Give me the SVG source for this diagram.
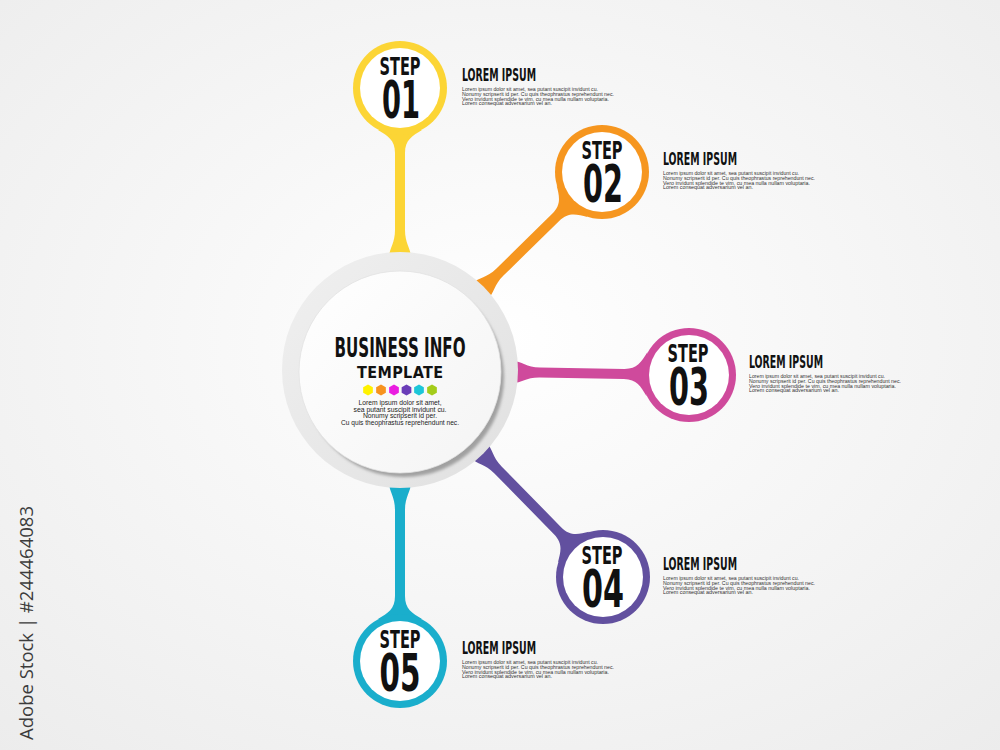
<svg xmlns="http://www.w3.org/2000/svg" xmlns:xlink="http://www.w3.org/1999/xlink" width="1000" height="750" viewBox="0 0 1000 750">
<defs>
<radialGradient id="bg" cx="50%" cy="45%" r="75%">
<stop offset="0" stop-color="#ffffff"/>
<stop offset="1" stop-color="#ececec"/>
</radialGradient>
<linearGradient id="ringG" x1="0" y1="0" x2="1" y2="1">
<stop offset="0" stop-color="#f0f0f0"/>
<stop offset="1" stop-color="#e0e0e0"/>
</linearGradient>
<linearGradient id="diskG" x1="0" y1="0" x2="1" y2="1">
<stop offset="0" stop-color="#ffffff"/>
<stop offset="1" stop-color="#f4f4f4"/>
</linearGradient>
<filter id="blur" x="-10%" y="-10%" width="120%" height="120%"><feGaussianBlur stdDeviation="1.5"/></filter>
<polygon id="hex" points="0,-5.6 4.85,-2.8 4.85,2.8 0,5.6 -4.85,2.8 -4.85,-2.8"/>
<style>
.cond{font-family:"DejaVu Sans Condensed","DejaVu Sans","Liberation Sans",sans-serif;font-weight:bold;fill:#111;}
.body{font-family:"Liberation Sans",Arial,sans-serif;fill:#333;font-size:5.3px;}
.cbody{font-family:"Liberation Sans",Arial,sans-serif;fill:#222;font-size:7.4px;text-anchor:middle;}
.stepw{font-size:24.5px;}
.num{font-size:52px;}
.lbl{text-anchor:middle;}
.title{font-size:17.5px;}
.inner{fill:#ffffff;}
</style>
</defs>
<rect width="1000" height="750" fill="url(#bg)"/>
<text transform="translate(33,740) rotate(-90)" font-family="'Open Sans','DejaVu Sans',sans-serif" font-size="19" fill="#3c3c3c" textLength="234" lengthAdjust="spacingAndGlyphs">Adobe Stock | #244464083</text>

<g id="connectors">
<g transform="translate(400,370) rotate(-90)"><path fill="#fcd535" d="M112,-11 C122,-11 126,-5 140,-5 L217,-5 C230,-5 234,-12 240,-22 L240,22 C234,12 230,5 217,5 L140,5 C126,5 122,11 112,11 Z"/></g>
<g transform="translate(400,370) rotate(-44.43)"><path fill="#f6961f" d="M112,-11 C122,-11 126,-5 140,-5 L218,-5 C231,-5 235,-12 241,-22 L241,22 C235,12 231,5 218,5 L140,5 C126,5 122,11 112,11 Z"/></g>
<g transform="translate(400,370) rotate(1)"><path fill="#cf4a9c" d="M112,-11 C122,-11 126,-5 140,-5 L224,-5 C237,-5 241,-12 247,-22 L247,22 C241,12 237,5 224,5 L140,5 C126,5 122,11 112,11 Z"/></g>
<g transform="translate(400,370) rotate(45.56)"><path fill="#62509f" d="M112,-11 C122,-11 126,-5 140,-5 L225,-5 C238,-5 242,-12 248,-22 L248,22 C242,12 238,5 225,5 L140,5 C126,5 122,11 112,11 Z"/></g>
<g transform="translate(400,370) rotate(90)"><path fill="#1aaecc" d="M112,-11 C122,-11 126,-5 140,-5 L226,-5 C239,-5 243,-12 249,-22 L249,22 C243,12 239,5 226,5 L140,5 C126,5 122,11 112,11 Z"/></g>
</g>

<g id="center">
<circle cx="400" cy="370" r="118" fill="url(#ringG)"/>
<circle cx="404" cy="377" r="100" fill="#a0a0a0" filter="url(#blur)"/>
<circle cx="400" cy="372" r="101" fill="url(#diskG)" stroke="#e2e2e2" stroke-width="0.8"/>
<text class="cond" x="400" y="357" font-size="26" text-anchor="middle" textLength="131" lengthAdjust="spacingAndGlyphs">BUSINESS INFO</text>
<text class="cond" x="400" y="378" font-size="16" text-anchor="middle" textLength="86" lengthAdjust="spacing">TEMPLATE</text>
<use xlink:href="#hex" x="368" y="390" fill="#fff200"/>
<use xlink:href="#hex" x="381" y="390" fill="#f7931e"/>
<use xlink:href="#hex" x="394" y="390" fill="#ea1de0"/>
<use xlink:href="#hex" x="406.5" y="390" fill="#6a3db8"/>
<use xlink:href="#hex" x="419" y="390" fill="#1cc6d8"/>
<use xlink:href="#hex" x="432" y="390" fill="#a4cc1a"/>
<text class="cbody" x="400" y="405" textLength="83" lengthAdjust="spacingAndGlyphs">Lorem ipsum dolor sit amet,</text>
<text class="cbody" x="400" y="411.5" textLength="93" lengthAdjust="spacingAndGlyphs">sea putant suscipit invidunt cu.</text>
<text class="cbody" x="400" y="418" textLength="74" lengthAdjust="spacingAndGlyphs">Nonumy scripserit id per.</text>
<text class="cbody" x="400" y="424.5" textLength="118" lengthAdjust="spacingAndGlyphs">Cu quis theophrastus reprehendunt nec.</text>
</g>

<g id="step1">
<circle cx="400" cy="88" r="47" fill="#fcd535"/>
<circle class="inner" cx="400" cy="88" r="40"/>
<text class="cond lbl"><tspan class="stepw" x="400" y="75" textLength="41" lengthAdjust="spacingAndGlyphs">STEP</tspan><tspan class="num" x="401" y="118" textLength="38" lengthAdjust="spacingAndGlyphs">01</tspan></text>
<text class="cond title" x="462" y="81" textLength="74" lengthAdjust="spacingAndGlyphs">LOREM IPSUM</text>
<text class="body" x="462" y="91" textLength="136" lengthAdjust="spacingAndGlyphs">Lorem ipsum dolor sit amet, sea putant suscipit invidunt cu.</text>
<text class="body" x="462" y="95.8" textLength="152" lengthAdjust="spacingAndGlyphs">Nonumy scripserit id per. Cu quis theophrastus reprehendunt nec.</text>
<text class="body" x="462" y="100.6" textLength="147" lengthAdjust="spacingAndGlyphs">Vero invidunt splendide te vim, cu mea nulla nullam voluptaria.</text>
<text class="body" x="462" y="105.4" textLength="90" lengthAdjust="spacingAndGlyphs">Lorem consequat adversarium vel an.</text>
</g>

<g id="step2">
<circle cx="602" cy="172" r="47" fill="#f6961f"/>
<circle class="inner" cx="602" cy="172" r="40"/>
<text class="cond lbl"><tspan class="stepw" x="602" y="159" textLength="41" lengthAdjust="spacingAndGlyphs">STEP</tspan><tspan class="num" x="603" y="202" textLength="40" lengthAdjust="spacingAndGlyphs">02</tspan></text>
<text class="cond title" x="663" y="165" textLength="74" lengthAdjust="spacingAndGlyphs">LOREM IPSUM</text>
<text class="body" x="663" y="175" textLength="136" lengthAdjust="spacingAndGlyphs">Lorem ipsum dolor sit amet, sea putant suscipit invidunt cu.</text>
<text class="body" x="663" y="179.8" textLength="152" lengthAdjust="spacingAndGlyphs">Nonumy scripserit id per. Cu quis theophrastus reprehendunt nec.</text>
<text class="body" x="663" y="184.6" textLength="147" lengthAdjust="spacingAndGlyphs">Vero invidunt splendide te vim, cu mea nulla nullam voluptaria.</text>
<text class="body" x="663" y="189.4" textLength="90" lengthAdjust="spacingAndGlyphs">Lorem consequat adversarium vel an.</text>
</g>

<g id="step3">
<circle cx="689" cy="375" r="47" fill="#cf4a9c"/>
<circle class="inner" cx="689" cy="375" r="40"/>
<text class="cond lbl"><tspan class="stepw" x="688" y="362" textLength="41" lengthAdjust="spacingAndGlyphs">STEP</tspan><tspan class="num" x="689" y="405" textLength="40" lengthAdjust="spacingAndGlyphs">03</tspan></text>
<text class="cond title" x="749" y="368" textLength="74" lengthAdjust="spacingAndGlyphs">LOREM IPSUM</text>
<text class="body" x="749" y="378" textLength="136" lengthAdjust="spacingAndGlyphs">Lorem ipsum dolor sit amet, sea putant suscipit invidunt cu.</text>
<text class="body" x="749" y="382.8" textLength="152" lengthAdjust="spacingAndGlyphs">Nonumy scripserit id per. Cu quis theophrastus reprehendunt nec.</text>
<text class="body" x="749" y="387.6" textLength="147" lengthAdjust="spacingAndGlyphs">Vero invidunt splendide te vim, cu mea nulla nullam voluptaria.</text>
<text class="body" x="749" y="392.4" textLength="90" lengthAdjust="spacingAndGlyphs">Lorem consequat adversarium vel an.</text>
</g>

<g id="step4">
<circle cx="603" cy="577" r="47" fill="#62509f"/>
<circle class="inner" cx="603" cy="577" r="40"/>
<text class="cond lbl"><tspan class="stepw" x="602" y="564" textLength="41" lengthAdjust="spacingAndGlyphs">STEP</tspan><tspan class="num" x="603" y="607" textLength="42" lengthAdjust="spacingAndGlyphs">04</tspan></text>
<text class="cond title" x="663" y="570" textLength="74" lengthAdjust="spacingAndGlyphs">LOREM IPSUM</text>
<text class="body" x="663" y="580" textLength="136" lengthAdjust="spacingAndGlyphs">Lorem ipsum dolor sit amet, sea putant suscipit invidunt cu.</text>
<text class="body" x="663" y="584.8" textLength="152" lengthAdjust="spacingAndGlyphs">Nonumy scripserit id per. Cu quis theophrastus reprehendunt nec.</text>
<text class="body" x="663" y="589.6" textLength="147" lengthAdjust="spacingAndGlyphs">Vero invidunt splendide te vim, cu mea nulla nullam voluptaria.</text>
<text class="body" x="663" y="594.4" textLength="90" lengthAdjust="spacingAndGlyphs">Lorem consequat adversarium vel an.</text>
</g>

<g id="step5">
<circle cx="400" cy="661" r="47" fill="#1aaecc"/>
<circle class="inner" cx="400" cy="661" r="40"/>
<text class="cond lbl"><tspan class="stepw" x="400" y="648" textLength="41" lengthAdjust="spacingAndGlyphs">STEP</tspan><tspan class="num" x="400" y="691" textLength="41" lengthAdjust="spacingAndGlyphs">05</tspan></text>
<text class="cond title" x="462" y="654" textLength="74" lengthAdjust="spacingAndGlyphs">LOREM IPSUM</text>
<text class="body" x="462" y="664" textLength="136" lengthAdjust="spacingAndGlyphs">Lorem ipsum dolor sit amet, sea putant suscipit invidunt cu.</text>
<text class="body" x="462" y="668.8" textLength="152" lengthAdjust="spacingAndGlyphs">Nonumy scripserit id per. Cu quis theophrastus reprehendunt nec.</text>
<text class="body" x="462" y="673.6" textLength="147" lengthAdjust="spacingAndGlyphs">Vero invidunt splendide te vim, cu mea nulla nullam voluptaria.</text>
<text class="body" x="462" y="678.4" textLength="90" lengthAdjust="spacingAndGlyphs">Lorem consequat adversarium vel an.</text>
</g>
</svg>
